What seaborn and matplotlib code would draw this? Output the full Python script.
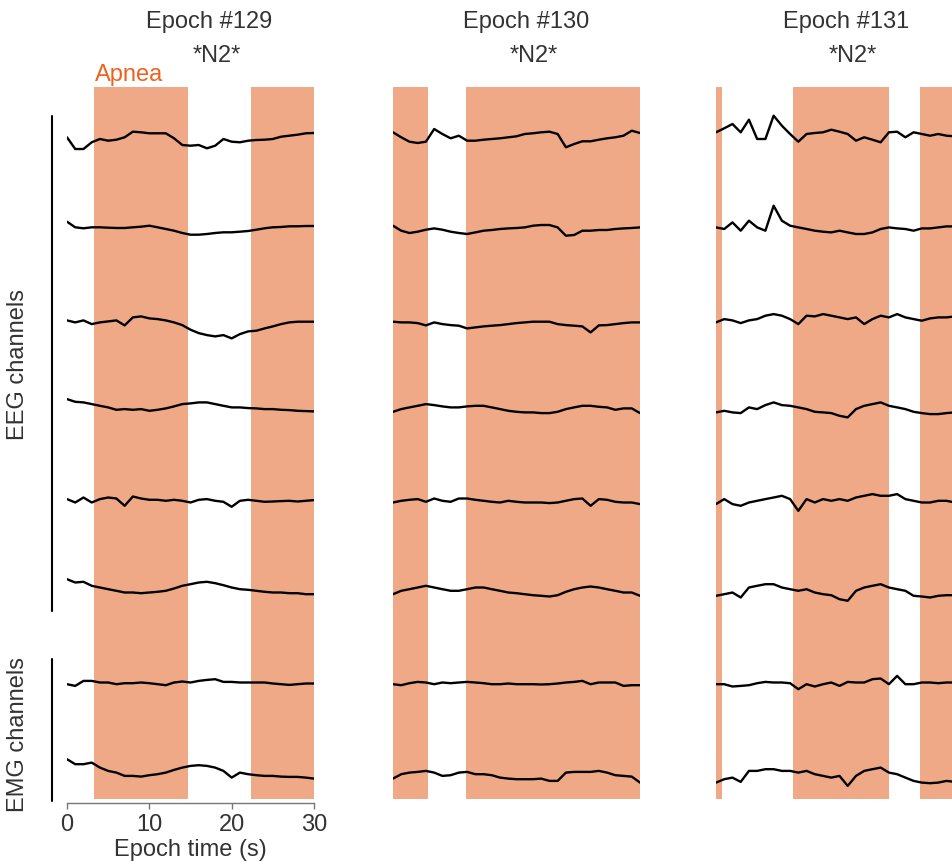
import numpy as np
import pandas as pd
import matplotlib
matplotlib.use("Agg")
import matplotlib.pyplot as plt
from matplotlib.lines import Line2D
import seaborn as sns

# ---------------- data ----------------
time_s = list(range(31))
channels = ["EEG1", "EEG2", "EEG3", "EEG4", "EEG5", "EEG6", "EMG1", "EMG2"]
epochs = ["Epoch #129", "Epoch #130", "Epoch #131"]
stages = ["*N2*", "*N2*", "*N2*"]

# apnea intervals (s) per epoch
apnea_129 = [(3.3, 14.7), (22.35, 30.0)]
apnea_130 = [(0.0, 4.27), (8.9, 30.0)]
apnea_131 = [(0.0, 0.7), (9.4, 21.0), (24.75, 30.0)]

# signal amplitudes (arbitrary units) sampled each second
e129_ch1 = [1.7, -10, -10, -3.3, 0, -1.7, -0.7, 1.7, 7.3, 6.7, 5.7, 5.7, 5.7, 0.7, -6, -6.7, -6, -9.3, -6.7, 0, -2.7, -3.3, -1.7, -1, -0.7, 0, 2.3, 3.3, 4.3, 5.7, 6]
e129_ch2 = [8, 2.4, 1.4, 2.4, 2.4, 2, 1.7, 1.7, 2.4, 3, 4, 2.4, 0.7, -1, -3.3, -5, -5, -4.3, -3.3, -2.6, -2.6, -2, -1.3, 0, 1.4, 2.4, 2.7, 3.4, 3.4, 3.7, 3.7]
e129_ch3 = [0, -2, 0, -3.7, -2, -1, 0, -5, 3, 4, 2, 1.3, 0, -2, -4.7, -9.3, -12.7, -14.7, -16, -14.7, -18, -13.7, -11, -10.3, -8, -6, -3.7, -2, -1.3, -1.3, -1.3]
e129_ch4 = [12, 9.3, 8.7, 7, 5.3, 3.7, 1.3, 2, 1.3, 2, 0.3, 1.3, 2.7, 4.7, 7, 7.7, 8.7, 8.7, 7, 5.3, 3.7, 3.7, 3, 2.7, 2, 2, 1.3, 1, 0.3, 0, -0.3]
e129_ch5 = [2.7, -0.7, 4.3, -0.7, 2.7, 4.3, 3.3, -4, 5.3, 3.3, 2, 2, 1, 2, 1, -0.7, 2, 2.7, 1, 0, -5, 1, 2, 1, 0, 0.3, 0.7, 1, 0.3, 1, 1.7]
e129_ch6 = [13.3, 10, 10.7, 6.7, 5, 3.3, 1.7, 0, 0, -0.7, 0, 0.7, 1.7, 4, 6.7, 8.3, 10, 10.7, 9.3, 7.3, 5, 3.3, 2.7, 1.7, 0.7, 0, 0, -0.7, -0.7, -1.7, -1.7]
e129_ch7 = [-1, -2.7, 2.3, 2.3, 0.7, 0.7, -1, 0, 0, 0.7, 0, -1, -2, 0.7, 1.7, 0.7, 2.3, 3.3, 4, 1.3, 1.3, 0.7, 0.7, 0.7, 0.7, -0.3, -1, -1.7, -1, -0.3, -0.3]
e129_ch8 = [14.7, 9.7, 9.7, 11.3, 6.3, 3, 1.3, -2, -2, -2.7, -1.3, -0.3, 1.3, 4, 6.3, 8, 8.7, 8, 6.3, 3, -3.7, 1.3, -0.3, -1.3, -2, -2, -2.7, -3, -3, -3.7, -4.7]

e130_ch1 = [6.7, 1.7, -2.7, -4, -2.7, 10, 5, 0.7, 3.3, -1.7, -1.7, -0.7, 0, 0.7, 1.7, 2.7, 5, 5.7, 6.7, 7.3, 5, -8.3, -5, -2.3, -2.3, -0.7, 0.7, 1.7, 3.3, 8.3, 6]
e130_ch2 = [4, -1, -3.3, -2, 0, 1.3, 0, -2, -3.3, -4.3, -2.7, -1, -0.3, 0.7, 1.3, 1.7, 2.3, 4, 4.7, 4.7, 2.3, -6, -5.3, -1, -1, -0.3, -0.3, 0.7, 1.3, 1.7, 2.3]
e130_ch3 = [-1.3, -2, -2, -2.7, -5, -2, -3.7, -4.7, -5.3, -8, -7, -6, -5.3, -4.7, -3.7, -2.7, -2, -1.3, -1.3, -1.3, -3.7, -4.7, -5.3, -6, -12, -5, -4.7, -3.7, -2.7, -2, -2]
e130_ch4 = [-0.7, 2, 3.7, 5.3, 7, 6, 4.7, 3.7, 3.7, 4.7, 5.3, 5.3, 3.7, 2, 0.3, -0.7, -1.3, -1.3, -2, -2, -0.7, 2, 3.7, 5.3, 5.3, 4.3, 3.7, 1.3, 2.7, 2.7, -2]
e130_ch5 = [-0.7, 1, 2, 2.7, 0, 3.3, 1, 0, 3.3, 3.3, 2, 1, 0, -0.7, 1, 0, -0.7, -0.7, -0.7, -1.3, -0.7, 1, 2.7, 3.3, -4, 2.7, 2, 0, -0.7, -0.7, -2.3]
e130_ch6 = [-1.7, 1.7, 3.3, 5, 6.7, 5, 3.3, 1.7, 1.7, 3.3, 5, 5, 3.3, 1.7, 0, -0.7, -1.7, -2.7, -3.3, -4, -2.7, 0.7, 3.3, 5, 6, 5, 3.3, 1.7, 0, 0, -3.3]
e130_ch7 = [-1, -2, 0, 1.3, 0.7, -1, 0.7, 0, 0.7, 1.3, 0.7, 0, -1, -1, -0.3, -1, -1, -1, -1.3, -1, -0.3, 0.7, 1.3, 2.3, -1, 0.7, 0.7, 0.7, -2.7, -2, -2]
e130_ch8 = [-4.7, -0.3, 1.3, 2, 3, 1.3, -2, -1.3, 1.3, 2, -0.3, -0.3, -1.3, -3.7, -4.7, -5.3, -5.3, -5.3, -4.7, -7, -7, 1.3, 2, 2, 2, 3, 1.3, -1.3, -2, -2.7, -8.7]

e131_ch1 = [6.7, 10.7, 15, 6.7, 19.3, 0, 0, 23.3, 13.3, 5, -2.7, 5, 6, 6.7, 9.3, 7.3, 5, -1.7, 1.7, -0.7, -3.3, 6.7, 7.3, 1.7, 6.7, 5, 3.3, 5, 3.3, 2.7]
e131_ch2 = [2.3, 0.7, 7.3, -1, 9, 2.3, -1, 24, 9, 4, 2.3, 0.7, -1, -2, -2.7, -1, -2.7, -4.3, -4.3, -2.7, 0.7, 2.3, 1.3, 0.7, -1, 1.3, 1.3, 2.3, 3.3, 3.3]
e131_ch3 = [-2, 1.3, 0, -2.7, 0, 1.3, 4.7, 6.3, 4.7, 1.3, -3.7, 4.7, 4, 6.3, 4.7, 3, 1.3, 3, -3.7, 1.3, 4.7, 3, 6.3, 3, 1.3, -0.3, 2, 3, 3, 4]
e131_ch4 = [-1.3, 0.3, -1.3, -2, 3.7, 2, 6, 8.7, 6, 5.3, 3.7, 2, -0.7, -1.3, -2, -4.7, -6.3, 2, 5.3, 7, 8.7, 5.3, 3.7, 2, -0.7, -2, -3, -3, -2, -1.3]
e131_ch5 = [-2.3, 2.7, -2.3, -4, -0.7, 1, 2.7, 4.3, 6, 2.7, -9, 2.7, -0.7, 2.7, 1, 2.7, 1, 4.3, 6, 7.7, 6, 6, 7.7, 2.7, 1, -0.7, -0.7, 1, 1, -0.7]
e131_ch6 = [-3.3, -1.7, 0, -5, 5, 6.7, 8.3, 8.3, 5, 3.3, 1.7, 3.3, 0, -1.7, -2.7, -6.7, -8.3, 1.7, 5, 6.7, 8.3, 5, 3.3, 1.7, -3.3, -4, -5, -3.3, -2.7, -2.7]
e131_ch7 = [-1, -1, -3.3, -2.7, -2, 0, 1.3, 0.7, 0.7, 0, -6, -1, -3.3, -1, 0.7, -2.7, 1.3, 0.7, 0.7, 4, 4.7, -1, 7.3, -1, -1, 0.7, 0.7, 0, 0.7, 0.7]
e131_ch8 = [-8.7, -5.3, -3.7, -8, 3, 3, 4.7, 4.7, 3, 3, 1.3, 3, -0.3, -2, -3.7, -2, -12, -2, 3, 4.7, 6.3, 1.3, -0.3, -3.7, -7, -8.7, -9.3, -8.7, -7, -8]

signals = {
    "Epoch #129": [e129_ch1, e129_ch2, e129_ch3, e129_ch4, e129_ch5, e129_ch6, e129_ch7, e129_ch8],
    "Epoch #130": [e130_ch1, e130_ch2, e130_ch3, e130_ch4, e130_ch5, e130_ch6, e130_ch7, e130_ch8],
    "Epoch #131": [e131_ch1, e131_ch2, e131_ch3, e131_ch4, e131_ch5, e131_ch6, e131_ch7, e131_ch8],
}
apneas = {"Epoch #129": apnea_129, "Epoch #130": apnea_130, "Epoch #131": apnea_131}

# ---------------- style ----------------
sns.set_style("white")
plt.rcParams["font.family"] = ["Liberation Sans", "DejaVu Sans"]
TEXT = "#333333"
SHADE = "#F0A986"
APNEA_TXT = "#F0601E"
FS = 17
SPACING = 90.7

rows = []
for ep in epochs:
    for ci, ch in enumerate(channels):
        vals = signals[ep][ci]
        for t, v in zip(time_s[:len(vals)], vals):
            rows.append({"epoch": ep, "channel": ch, "t": t, "y": v - ci * SPACING})
df = pd.DataFrame(rows)

W, H = 952, 862
fig = plt.figure(figsize=(W / 100, H / 100), dpi=100)
fx = lambda px: px / W
fy = lambda py: 1 - py / H

lefts = [67, 393, 716]
for i, ep in enumerate(epochs):
    ax = fig.add_axes([fx(lefts[i]), fy(800), 247 / W, 712 / H])
    for a, b in apneas[ep]:
        ax.axvspan(a, b, color=SHADE, lw=0, zorder=0)
    sns.lineplot(data=df[df.epoch == ep], x="t", y="y", units="channel",
                 estimator=None, color="black", lw=1.7, ax=ax, legend=False, sort=False)
    ax.set_xlim(0, 30)
    ax.set_ylim(-660, 52)
    ax.set_yticks([])
    ax.set_ylabel("")
    for s in ["top", "right", "left"]:
        ax.spines[s].set_visible(False)
    if i == 0:
        ax.spines["bottom"].set_position(("outward", 3))
        ax.spines["bottom"].set_color("#777777")
        ax.spines["bottom"].set_linewidth(1.0)
        ax.set_xticks([0, 10, 20, 30])
        ax.tick_params(axis="x", bottom=True, length=4, width=1, color="#777777",
                       labelsize=FS, labelcolor=TEXT, pad=3)
        ax.set_xlabel("Epoch time (s)", fontsize=FS, color=TEXT, labelpad=2)
    else:
        ax.spines["bottom"].set_visible(False)
        ax.set_xticks([])
        ax.set_xlabel("")
    ax.patch.set_alpha(0)

title_x = [209, 526, 846]
stage_x = [217, 534, 853]
for i, ep in enumerate(epochs):
    fig.text(fx(title_x[i]), fy(22), ep, ha="center", va="center", fontsize=FS, color=TEXT)
    fig.text(fx(stage_x[i]), fy(56), stages[i], ha="center", va="center", fontsize=FS, color=TEXT)

fig.text(fx(95), fy(75), "Apnea", ha="left", va="center", fontsize=FS, color=APNEA_TXT)

fig.add_artist(Line2D([fx(52), fx(52)], [fy(117), fy(612)], color="black", lw=1.5))
fig.add_artist(Line2D([fx(52), fx(52)], [fy(660), fy(802)], color="black", lw=1.5))
fig.text(fx(18), fy(365), "EEG channels", rotation=90, ha="center", va="center", fontsize=FS, color=TEXT)
fig.text(fx(18), fy(735), "EMG channels", rotation=90, ha="center", va="center", fontsize=FS, color=TEXT)

fig.savefig("out.png", dpi=100)
